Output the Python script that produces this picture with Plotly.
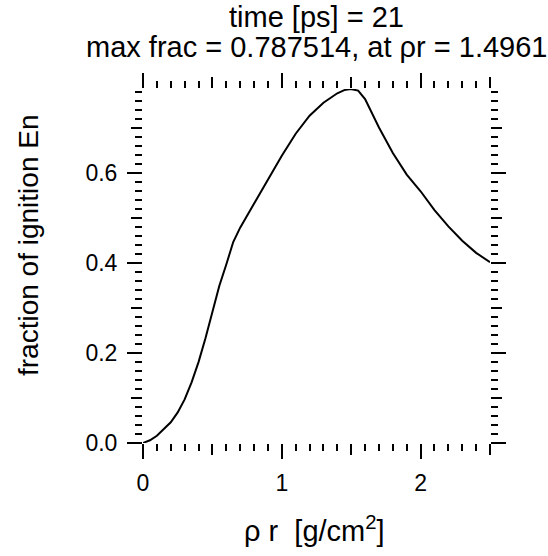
import plotly.graph_objects as go

# fraction of ignition energy vs areal density (rho r)
rho_r = [0.0, 0.05, 0.1, 0.15, 0.2, 0.25, 0.3, 0.35, 0.4, 0.45, 0.5, 0.55,
         0.6, 0.65, 0.7, 0.75, 0.8, 0.9, 1.0, 1.1, 1.2, 1.3, 1.4, 1.45,
         1.4961, 1.55, 1.6, 1.7, 1.8, 1.9, 2.0, 2.1, 2.2, 2.3, 2.4, 2.5]
frac = [0.0, 0.006, 0.016, 0.030, 0.046, 0.068, 0.097, 0.135, 0.180, 0.233,
        0.290, 0.350, 0.397, 0.447, 0.479, 0.506, 0.532, 0.585, 0.639, 0.688,
        0.728, 0.757, 0.778, 0.785, 0.787514, 0.784, 0.765, 0.702, 0.645,
        0.597, 0.560, 0.518, 0.482, 0.450, 0.423, 0.402]

x_major = [0, 1, 2]
x_mid = [0.5, 1.5, 2.5]
y_major = [0.0, 0.2, 0.4, 0.6]
y_mid = [0.1, 0.3, 0.5, 0.7]

time_ps = 21
max_frac = max(frac)
at_rho_r = rho_r[frac.index(max_frac)]

FONT = "Liberation Sans, Arial, sans-serif"
xr = [0, 2.5]
yr = [0, max_frac]

fig = go.Figure()
fig.add_trace(go.Scatter(x=rho_r, y=frac, mode="lines",
                         line=dict(color="black", width=2), showlegend=False))
# invisible trace so the overlay axes exist
fig.add_trace(go.Scatter(x=[None], y=[None], xaxis="x2", yaxis="y2",
                         showlegend=False, hoverinfo="skip"))

common = dict(showline=False, showgrid=False, zeroline=False, mirror="ticks",
              ticks="outside", tickcolor="black", tickwidth=2, automargin=False)

fig.update_layout(
    width=548, height=556,
    margin=dict(l=143, r=58, t=89, b=113),
    paper_bgcolor="white", plot_bgcolor="white",
    font=dict(family=FONT, color="black", size=23),
    xaxis=dict(range=xr, tickvals=x_major, ticklen=15, ticklabelstandoff=4,
               minor=dict(dtick=0.1, ticks="outside", ticklen=7, tickwidth=2,
                          tickcolor="black"),
               **common),
    yaxis=dict(range=yr, tickvals=y_major, tickformat=".1f", ticklen=15,
               ticklabelstandoff=5,
               minor=dict(dtick=0.02, ticks="outside", ticklen=7, tickwidth=2,
                          tickcolor="black"),
               **common),
    xaxis2=dict(range=xr, overlaying="x", anchor="y", side="bottom",
                tickvals=x_mid, ticklen=11, showticklabels=False, **common),
    yaxis2=dict(range=yr, overlaying="y", anchor="x", side="left",
                tickvals=y_mid, ticklen=11, showticklabels=False, **common),
)

# titles (two title lines as separate annotations for tighter line spacing)
fig.add_annotation(text=f"time [ps] = {time_ps}",
                   xref="paper", yref="paper", x=0.5, y=1, xanchor="center",
                   yanchor="middle", yshift=72, showarrow=False,
                   font=dict(size=29))
fig.add_annotation(text=f"max frac = {max_frac:g}, at \u03c1r = {at_rho_r:g}",
                   xref="paper", yref="paper", x=0.5, y=1, xanchor="center",
                   yanchor="middle", yshift=42, showarrow=False,
                   font=dict(size=29))
fig.add_annotation(text="\u03c1 r  [g/cm<sup>2</sup>]", xref="paper", yref="paper",
                   x=0.5, y=0, xanchor="center", yanchor="middle",
                   xshift=-2, yshift=-86, showarrow=False, font=dict(size=29))
fig.add_annotation(text="fraction of ignition En", xref="paper", yref="paper",
                   x=0, y=0.5, xanchor="center", yanchor="middle",
                   xshift=-115, yshift=21, textangle=-90, showarrow=False,
                   font=dict(size=28))

fig.write_html("out.html", config={"displayModeBar": False},
               post_script="document.body.style.margin='0';")
